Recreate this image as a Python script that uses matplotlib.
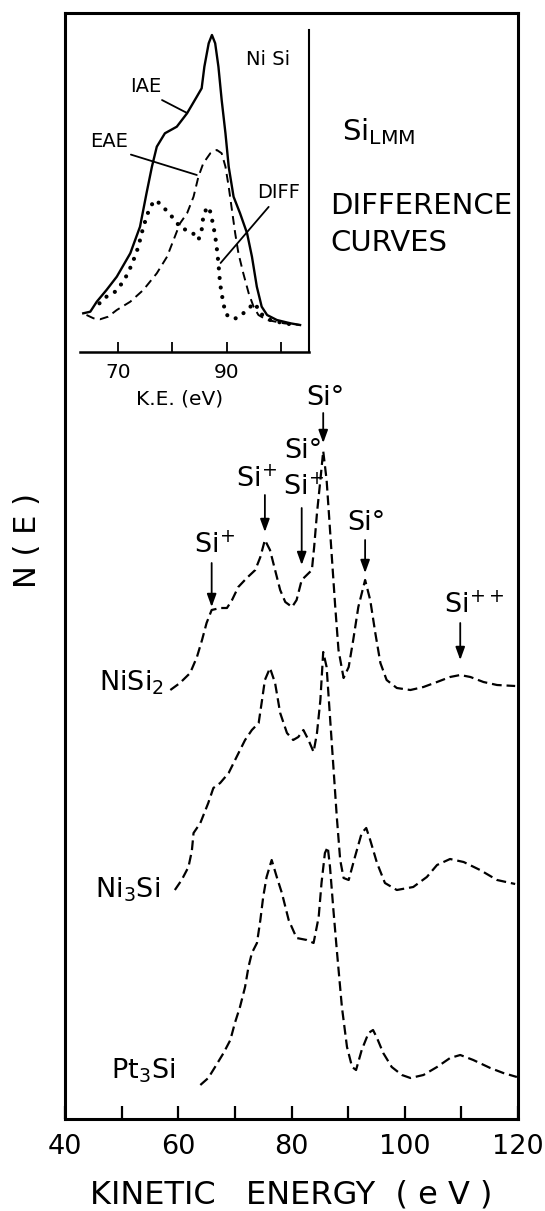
import matplotlib
matplotlib.use('Agg')
import matplotlib.pyplot as plt

plt.rcParams['font.family'] = ['DejaVu Sans']
plt.rcParams['mathtext.default'] = 'regular'

# ---------------- main panel data (kinetic energy eV, N(E) arbitrary units, curves offset) ----
nisi2_E = [58.6, 60.3, 62.1, 63.3, 64.2, 65.0, 65.9, 67.4, 68.6, 69.5, 70.6, 72.1, 73.6, 74.5,
           75.3, 76.2, 77.1, 78.0, 78.9, 80.1, 80.9, 81.8, 82.7, 83.6, 84.0, 84.5, 85.1, 85.6,
           86.2, 86.6, 87.1, 87.7, 88.3, 89.2, 90.1, 90.9, 91.8, 93.0, 93.9, 94.8, 95.7, 96.8,
           98.6, 101.0, 103.3, 105.7, 108.0, 109.8, 111.6, 113.9, 116.3, 119.5]
nisi2_N = [429, 436, 446, 462, 479, 496, 509, 511, 511, 519, 532, 541, 549, 562,
           579, 569, 549, 529, 517, 512, 519, 539, 544, 549, 572, 606, 639, 668,
           639, 606, 564, 514, 469, 441, 452, 479, 512, 539, 519, 486, 456, 439,
           431, 429, 432, 437, 442, 444, 442, 437, 434, 433]

ni3si_E = [59.4, 60.6, 61.8, 62.4, 62.7, 63.9, 65.3, 66.2, 67.4, 68.9, 70.3, 71.8, 73.0, 74.2,
           74.8, 75.3, 76.2, 77.1, 78.0, 79.2, 80.3, 81.2, 82.1, 83.0, 83.9, 84.5, 85.1, 85.6,
           86.2, 86.8, 87.4, 88.0, 88.6, 89.2, 90.1, 91.2, 92.4, 93.2, 93.9, 95.1, 96.5, 98.6,
           101.5, 103.9, 105.7, 108.0, 110.4, 113.3, 116.3, 119.5]
ni3si_N = [229, 239, 252, 268, 286, 296, 316, 331, 336, 346, 362, 379, 389, 396,
           419, 439, 451, 436, 406, 386, 379, 382, 389, 379, 367, 386, 419, 467,
           452, 402, 352, 302, 259, 241, 239, 262, 286, 291, 279, 256, 236, 229,
           232, 242, 254, 260, 257, 249, 239, 235]

pt3si_E = [63.9, 65.3, 66.5, 68.0, 69.2, 70.0, 70.9, 71.8, 72.4, 73.0, 73.9, 74.5, 75.0, 75.6,
           76.5, 77.4, 78.3, 79.5, 80.9, 82.7, 83.9, 84.8, 85.3, 85.9, 86.4, 86.8, 87.4, 88.0,
           88.9, 89.8, 90.7, 91.4, 92.4, 93.6, 94.4, 95.1, 96.2, 97.7, 99.5, 101.0, 103.3,
           105.7, 108.0, 109.8, 112.1, 115.1, 117.4, 119.8]
pt3si_N = [34, 41, 52, 66, 79, 96, 112, 132, 152, 166, 176, 199, 222, 242,
           259, 242, 226, 199, 181, 179, 176, 202, 236, 266, 272, 252, 209, 169,
           112, 72, 52, 49, 69, 86, 89, 81, 66, 52, 44, 41, 44,
           52, 61, 64, 59, 51, 46, 42]

curve_names = [r'NiSi$_{2}$', r'Ni$_{3}$Si', r'Pt$_{3}$Si']
curve_E = [nisi2_E, ni3si_E, pt3si_E]
curve_N = [nisi2_N, ni3si_N, pt3si_N]
name_pos = [(57.4, 429), (56.8, 222), (59.4, 41)]   # right end, baseline

# peak assignments on the NiSi2 curve
peak_E = [65.9, 75.3, 81.8, 85.6, 93.0, 109.8]
arrow_tail = [556, 624, 611, 706, 579, 496]
arrow_tip = [512, 587, 554, 676, 546, 459]
peak_text = [[r'Si$^{+}$'], [r'Si$^{+}$'], ['Si°', r'Si$^{+}$'],
             ['Si°'], ['Si°'], [r'Si$^{++}$']]
text_x = [66.4, 73.8, 82.1, 86.0, 93.2, 112.2]
text_base = [[566], [632], [661, 624], [714], [589], [506]]

x_ticks = [40, 50, 60, 70, 80, 90, 100, 110, 120]
x_ticklabels = ['40', '', '60', '', '80', '', '100', '', '120']

# ---------------- inset data (NiSi) ----------------
iae_E = [63.5, 64.8, 66.0, 67.8, 69.7, 72.2, 74.0, 75.2, 76.2, 77.1, 78.6, 80.8, 82.7, 84.5,
         85.4, 85.9, 86.7, 87.3, 87.9, 88.5, 89.1, 89.8, 90.4, 91.3, 92.5, 93.8, 94.7, 95.6,
         96.5, 97.5, 99.3, 101.8, 103.6]
iae_N = [36.7, 38.3, 48.3, 60, 73.3, 96.7, 123.3, 156.7, 183.3, 203.3, 216.7, 223.3, 236.7,
         253.3, 261.7, 283.3, 306.7, 315, 306.7, 283.3, 250, 216.7, 183.3, 153.3, 136.7,
         116.7, 93.3, 63.3, 43.3, 35, 30, 26.7, 25]
eae_E = [64.1, 65.4, 66.6, 68.1, 69.7, 72.2, 74.6, 77.1, 79.0, 80.2, 81.4, 82.7, 83.9, 84.8,
         85.7, 87.0, 88.2, 89.1, 89.8, 90.4, 91.0, 91.6, 92.2, 93.1, 94.1, 95.0, 95.9, 97.5,
         100.6, 103.6]
eae_N = [35, 31.7, 30.7, 33.3, 40, 48.3, 60, 76.7, 93.3, 110, 126.7, 136.7, 153.3, 173.3,
         186.7, 196.7, 200, 196.7, 183.3, 163.3, 140, 116.7, 96.7, 76.7, 56.7, 43.3, 35, 30,
         26.7, 25]
diff_E = [66.5, 67.8, 69.4, 70.9, 71.9, 72.8, 73.7, 74.3, 75.2, 75.9, 76.8, 78.0, 79.3, 80.5,
          81.5, 82.7, 83.8, 84.8, 85.4, 85.7, 86.4, 87.0, 87.6, 88.1, 88.5, 88.8, 89.3, 89.8,
          90.7, 91.9, 93.1, 94.4, 95.3, 96.2, 98.1, 100.6, 103.0]
diff_N = [46.7, 53.3, 58.3, 68.3, 78.3, 90, 103.3, 116.7, 133.3, 143.3, 150, 145, 136.7, 130,
          121.7, 120, 116.7, 110, 120, 133.3, 143.3, 138.3, 123.3, 106.7, 86.7, 66.7, 50,
          36.7, 31.7, 31.7, 36.7, 43.3, 46.7, 36.7, 30, 26.7, 25]

inset_ticks = [70, 80, 90, 100]
inset_ticklabels = ['70', '', '90', '']

# ---------------- figure ----------------
fig = plt.figure(figsize=(5.45, 12.11), dpi=100)
ax = fig.add_axes([0.11927, 0.07597, 0.83119, 0.91329])
ax.set_xlim(40, 120)
ax.set_ylim(0, 1106)

for E, N in zip(curve_E, curve_N):
    ax.plot(E, N, color='black', lw=1.6, linestyle=(0, (4.4, 2.2)))

for name, (xr, yb) in zip(curve_names, name_pos):
    ax.text(xr, yb, name, ha='right', va='baseline', fontsize=19.5)

for e, t0, t1, txts, tx, bases in zip(peak_E, arrow_tail, arrow_tip, peak_text, text_x, text_base):
    ax.annotate('', xy=(e, t1), xytext=(e, t0),
                arrowprops=dict(arrowstyle='-|>,head_length=0.55,head_width=0.2',
                                mutation_scale=14, lw=1.3, color='black',
                                shrinkA=0, shrinkB=0))
    for s, b in zip(txts, bases):
        ax.text(tx, b, s, ha='center', va='baseline', fontsize=19.5)

ax.text(89.0, 979, r'Si$_{LMM}$', ha='left', va='baseline', fontsize=21)
ax.text(86.8, 905, 'DIFFERENCE', ha='left', va='baseline', fontsize=21)
ax.text(86.8, 868, 'CURVES', ha='left', va='baseline', fontsize=21)

ax.set_xticks(x_ticks)
ax.set_xticklabels(x_ticklabels)
ax.set_yticks([])
ax.tick_params(axis='x', direction='in', length=9.5, width=1.6, pad=11, labelsize=19.5)
for sp in ax.spines.values():
    sp.set_linewidth(2.2)
ax.set_xlabel('KINETIC   ENERGY  ( e V )', fontsize=23, labelpad=14)
fig.text(28 / 545, 1 - 541 / 1211, 'N ( E )', rotation=90, ha='center', va='center', fontsize=22)

# ---------------- inset ----------------
axi = fig.add_axes([0.14679, 0.70933, 0.42018, 0.26590])
axi.patch.set_alpha(0)
axi.set_xlim(62.9, 105.25)
axi.set_ylim(-2, 320)
axi.plot(iae_E, iae_N, color='black', lw=1.7)
axi.plot(eae_E, eae_N, color='black', lw=1.4, linestyle=(0, (4.5, 2.8)))
axi.plot(diff_E, diff_N, color='black', lw=3.0, linestyle=(0, (0.01, 2.3)),
         dash_capstyle='round')
axi.spines['left'].set_visible(False)
axi.spines['top'].set_visible(False)
axi.spines['right'].set_linewidth(1.5)
axi.spines['bottom'].set_linewidth(1.8)
axi.set_yticks([])
axi.set_xticks(inset_ticks)
axi.set_xticklabels(inset_ticklabels)
axi.tick_params(axis='x', direction='in', length=7, width=1.3, pad=8, labelsize=14.5)

axi.annotate('IAE', xy=(82.7, 237), xytext=(75.0, 258), ha='center', va='baseline',
             fontsize=14, arrowprops=dict(arrowstyle='-', lw=1.3, color='black',
                                          relpos=(0.78, 0), shrinkA=2, shrinkB=0))
axi.annotate('EAE', xy=(84.5, 175), xytext=(68.2, 203), ha='center', va='baseline',
             fontsize=14, arrowprops=dict(arrowstyle='-', lw=1.3, color='black',
                                          relpos=(0.78, 0), shrinkA=2, shrinkB=0))
axi.annotate('DIFF', xy=(88.9, 87), xytext=(99.6, 152), ha='center', va='baseline',
             fontsize=14, arrowprops=dict(arrowstyle='-', lw=1.3, color='black',
                                          relpos=(0.37, 0), shrinkA=2, shrinkB=0))
axi.text(97.7, 285, 'Ni Si', ha='center', va='baseline', fontsize=14)
fig.text(180 / 545, 1 - 399 / 1211, 'K.E. (eV)', ha='center', va='center', fontsize=14.5)

fig.savefig('out.png', dpi=100)
